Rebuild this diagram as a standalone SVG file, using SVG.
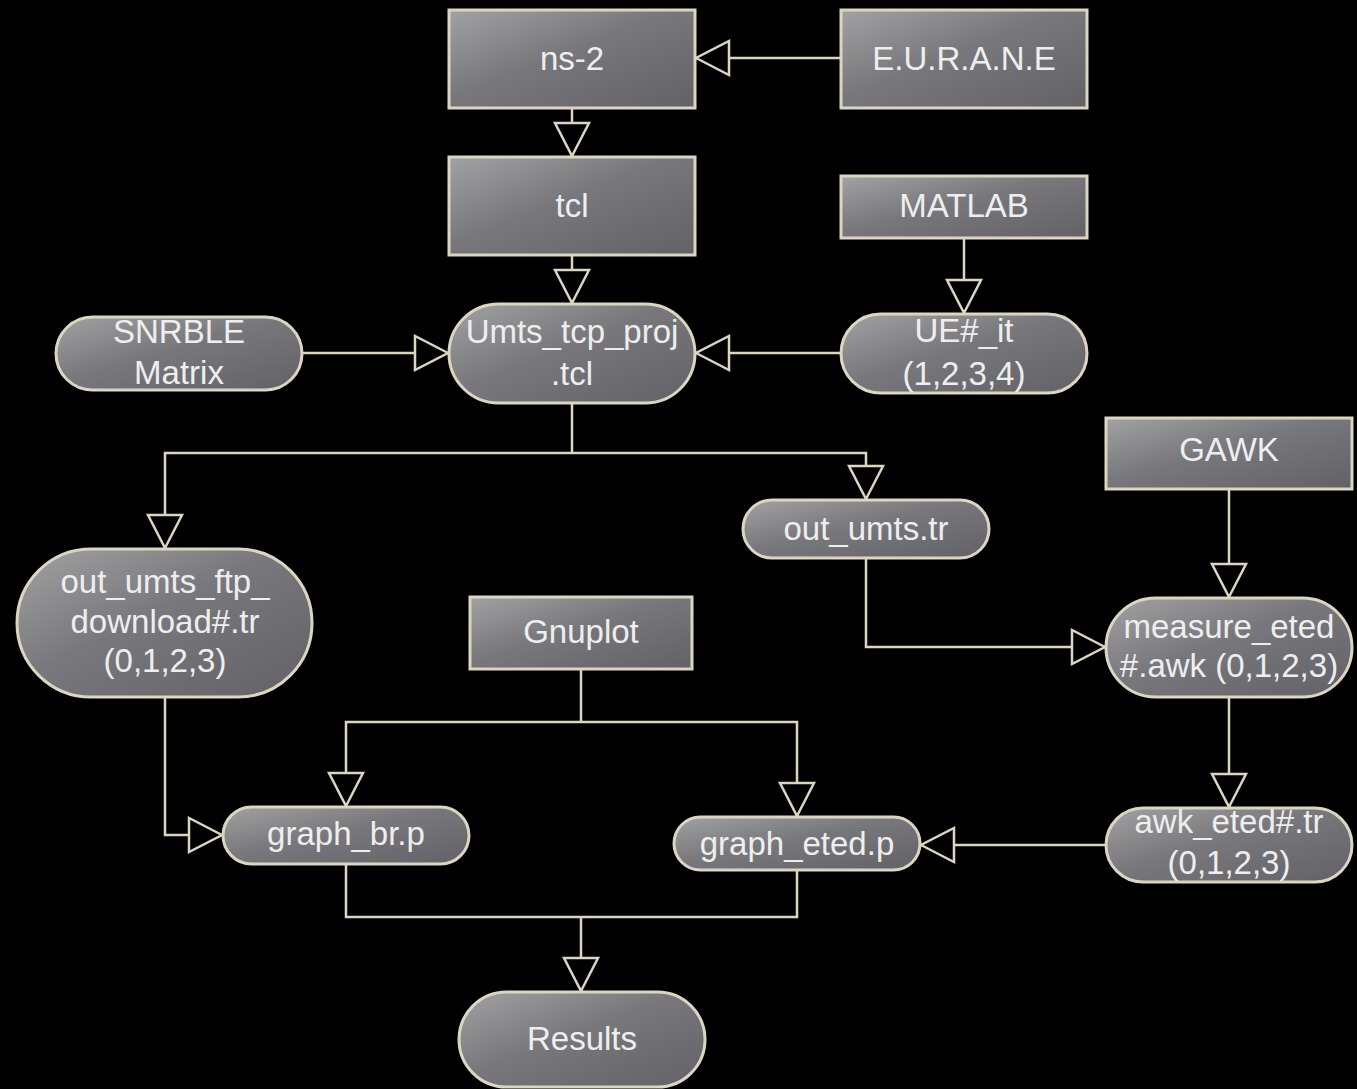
<svg xmlns="http://www.w3.org/2000/svg" width="1357" height="1089" viewBox="0 0 1357 1089">
<style>
.n{stroke:#dcd5c2;stroke-width:3;fill:url(#g)}
.t{font-family:"Liberation Sans",Arial,sans-serif;font-size:33px;fill:#eeeeee;text-anchor:middle}
.c{fill:none;stroke:#dcd5c2;stroke-width:2.5}
.a{marker-end:url(#arr)}
</style>
<defs>
<linearGradient id="g" x1="0" y1="0" x2="1" y2="1">
<stop offset="0" stop-color="#a2a2a4"/>
<stop offset="0.45" stop-color="#78787c"/>
<stop offset="1" stop-color="#626266"/>
</linearGradient>
<marker id="arr" markerUnits="userSpaceOnUse" viewBox="-38 -20 40 40" markerWidth="40" markerHeight="40" refX="0" refY="0" orient="auto">
<path d="M-1,0 L-34,-17 L-34,17 Z" fill="#000" stroke="#dcd5c2" stroke-width="2.5" stroke-linejoin="miter"/>
</marker>
</defs>
<rect width="1357" height="1089" fill="#000"/>
<g id="connectors">
<path class="c a" d="M841,58 H695"/>
<path class="c a" d="M572,108 V157"/>
<path class="c a" d="M572,255 V304"/>
<path class="c a" d="M964,238 V314"/>
<path class="c a" d="M302,353 H449"/>
<path class="c a" d="M841,353 H695"/>
<path class="c" d="M572,403 V453"/>
<path class="c a" d="M572,453 H165 V549"/>
<path class="c a" d="M572,453 H866 V500"/>
<path class="c a" d="M866,558 V647 H1106"/>
<path class="c a" d="M1229,489 V598"/>
<path class="c a" d="M1229,697 V808"/>
<path class="c a" d="M1106,845 H920"/>
<path class="c a" d="M165,697 V835 H223"/>
<path class="c" d="M581,669 V722"/>
<path class="c a" d="M581,722 H346 V807"/>
<path class="c a" d="M581,722 H797 V817"/>
<path class="c" d="M346,864 V917 H797 V870"/>
<path class="c a" d="M581,917 V992"/>
</g>
<g id="ns2"><rect class="n" x="449" y="10" width="246" height="98"/><text class="t" x="572" y="70">ns-2</text></g>
<g id="eurane"><rect class="n" x="841" y="10" width="246" height="98"/><text class="t" x="964" y="70">E.U.R.A.N.E</text></g>
<g id="tcl"><rect class="n" x="449" y="157" width="246" height="98"/><text class="t" x="572" y="217">tcl</text></g>
<g id="matlab"><rect class="n" x="841" y="176" width="246" height="62"/><text class="t" x="964" y="217">MATLAB</text></g>
<g id="snrble"><rect class="n" x="56" y="317" width="246" height="73" rx="36.5"/><text class="t" x="179" y="343">SNRBLE</text><text class="t" x="179" y="384">Matrix</text></g>
<g id="umts"><rect class="n" x="449" y="304" width="246" height="99" rx="49.5"/><text class="t" x="572" y="343">Umts_tcp_proj</text><text class="t" x="572" y="385">.tcl</text></g>
<g id="ueit"><rect class="n" x="841" y="314" width="246" height="79" rx="39.5"/><text class="t" x="964" y="342">UE#_it</text><text class="t" x="964" y="385">(1,2,3,4)</text></g>
<g id="gawk"><rect class="n" x="1106" y="418" width="246" height="71"/><text class="t" x="1229" y="461">GAWK</text></g>
<g id="outumts"><rect class="n" x="743" y="500" width="246" height="58" rx="29"/><text class="t" x="866" y="540">out_umts.tr</text></g>
<g id="outftp"><rect class="n" x="17" y="549" width="295" height="148" rx="74"/><text class="t" x="165" y="593">out_umts_ftp_</text><text class="t" x="165" y="633">download#.tr</text><text class="t" x="165" y="672">(0,1,2,3)</text></g>
<g id="gnuplot"><rect class="n" x="470" y="597" width="222" height="72"/><text class="t" x="581" y="643">Gnuplot</text></g>
<g id="measure"><rect class="n" x="1106" y="598" width="246" height="99" rx="49.5"/><text class="t" x="1229" y="638">measure_eted</text><text class="t" x="1229" y="677">#.awk (0,1,2,3)</text></g>
<g id="graphbr"><rect class="n" x="223" y="807" width="246" height="57" rx="28.5"/><text class="t" x="346" y="845">graph_br.p</text></g>
<g id="grapheted"><rect class="n" x="674" y="817" width="246" height="53" rx="26.5"/><text class="t" x="797" y="855">graph_eted.p</text></g>
<g id="awketed"><rect class="n" x="1106" y="808" width="246" height="74" rx="37"/><text class="t" x="1229" y="833">awk_eted#.tr</text><text class="t" x="1229" y="874">(0,1,2,3)</text></g>
<g id="results"><rect class="n" x="459" y="992" width="246" height="95" rx="47.5"/><text class="t" x="582" y="1050">Results</text></g>
</svg>
